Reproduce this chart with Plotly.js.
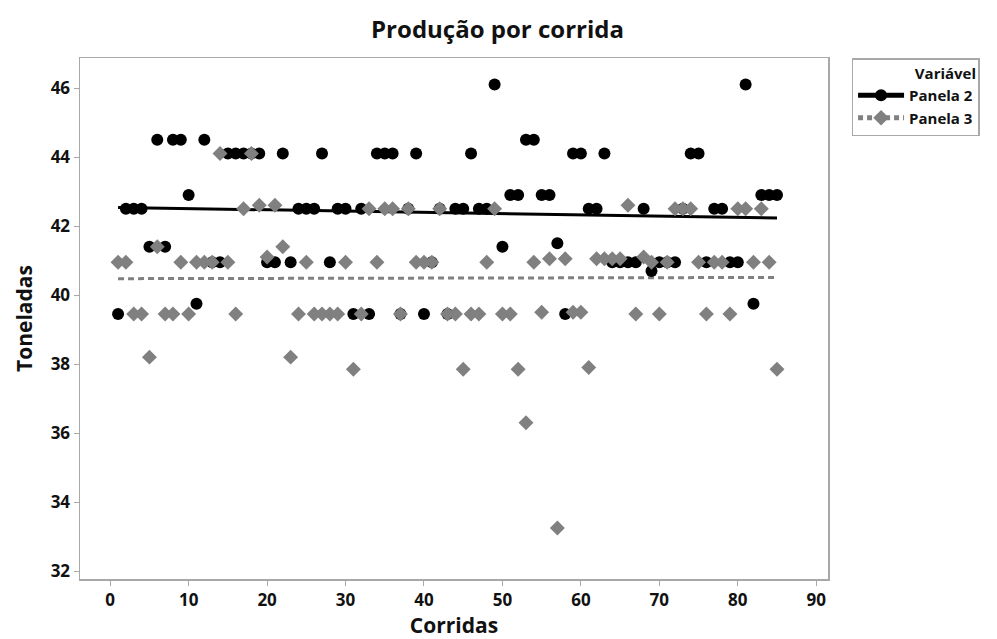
<!DOCTYPE html>
<html>
<head>
<meta charset="utf-8">
<script src="https://cdn.plot.ly/plotly-3.0.1.min.js"></script>
<style>html,body{margin:0;padding:0;background:#fff;}#chart{width:997px;height:639px;}</style>
</head>
<body>
<div id="chart"></div>
<script>
// Run numbers (Corridas)
const runs = Array.from({length: 85}, (_, i) => i + 1);

// Panela 2 (toneladas)
const panela2 = [
  39.45, 42.5, 42.5, 42.5, 41.4, 44.5, 41.4, 44.5, 44.5, 42.9,
  39.75, 44.5, 40.95, 40.95, 44.1, 44.1, 44.1, 44.1, 44.1, 40.95,
  40.95, 44.1, 40.95, 42.5, 42.5, 42.5, 44.1, 40.95, 42.5, 42.5,
  39.45, 42.5, 39.45, 44.1, 44.1, 44.1, 39.45, 42.5, 44.1, 39.45,
  40.95, 42.5, 39.45, 42.5, 42.5, 44.1, 42.5, 42.5, 46.1, 41.4,
  42.9, 42.9, 44.5, 44.5, 42.9, 42.9, 41.5, 39.45, 44.1, 44.1,
  42.5, 42.5, 44.1, 40.95, 40.95, 40.95, 40.95, 42.5, 40.7, 40.95,
  40.95, 40.95, 42.5, 44.1, 44.1, 40.95, 42.5, 42.5, 40.95, 40.95,
  46.1, 39.75, 42.9, 42.9, 42.9
];

// Panela 3 (toneladas)
const panela3 = [
  40.95, 40.95, 39.45, 39.45, 38.2, 41.4, 39.45, 39.45, 40.95, 39.45,
  40.95, 40.95, 40.95, 44.1, 40.95, 39.45, 42.5, 44.1, 42.6, 41.1,
  42.6, 41.4, 38.2, 39.45, 40.95, 39.45, 39.45, 39.45, 39.45, 40.95,
  37.85, 39.45, 42.5, 40.95, 42.5, 42.5, 39.45, 42.5, 40.95, 40.95,
  40.95, 42.5, 39.45, 39.45, 37.85, 39.45, 39.45, 40.95, 42.5, 39.45,
  39.45, 37.85, 36.3, 40.95, 39.5, 41.05, 33.25, 41.05, 39.5, 39.5,
  37.9, 41.05, 41.05, 41.05, 41.05, 42.6, 39.45, 41.1, 40.95, 39.45,
  40.95, 42.5, 42.5, 42.5, 40.95, 39.45, 40.95, 40.95, 39.45, 42.5,
  42.5, 40.95, 42.5, 40.95, 37.85
];

const xTicks = [0, 10, 20, 30, 40, 50, 60, 70, 80, 90];
const yTicks = [32, 34, 36, 38, 40, 42, 44, 46];

function linFit(xs, ys) {
  const n = xs.length;
  let sx = 0, sy = 0, sxx = 0, sxy = 0;
  for (let i = 0; i < n; i++) { sx += xs[i]; sy += ys[i]; sxx += xs[i]*xs[i]; sxy += xs[i]*ys[i]; }
  const b = (n*sxy - sx*sy) / (n*sxx - sx*sx);
  const a = (sy - b*sx) / n;
  const x0 = xs[0], x1 = xs[n-1];
  return {x: [x0, x1], y: [a + b*x0, a + b*x1]};
}

const fit2 = linFit(runs, panela2);
const fit3 = linFit(runs, panela3);

const FONT = '"Open Sans", "Noto Sans", sans-serif';
const GRAY = '#808080';

const traces = [
  {x: fit2.x, y: fit2.y, mode: 'lines', line: {color: '#000', width: 3}, showlegend: false, hoverinfo: 'skip'},
  {x: fit3.x, y: fit3.y, mode: 'lines', line: {color: GRAY, width: 3, dash: '6px,4px'}, showlegend: false, hoverinfo: 'skip'},
  {x: runs, y: panela2, mode: 'markers', marker: {symbol: 'circle', size: 12, color: '#000'}, showlegend: false},
  {x: runs, y: panela3, mode: 'markers', marker: {symbol: 'diamond', size: 11.5, color: GRAY}, showlegend: false},
  {x: [null], y: [null], name: 'Panela 2', mode: 'lines+markers',
   line: {color: '#000', width: 3}, marker: {symbol: 'circle', size: 12, color: '#000'}},
  {x: [null], y: [null], name: 'Panela 3', mode: 'lines+markers',
   line: {color: GRAY, width: 3, dash: '5px,4px'}, marker: {symbol: 'diamond', size: 12, color: GRAY}}
];

const axisCommon = {
  showgrid: false, zeroline: false,
  showline: true, mirror: true, linecolor: '#a8a8a8', linewidth: 1.5,
  ticks: 'outside', ticklen: 5, tickcolor: '#a8a8a8', tickwidth: 1,
  tickfont: {family: FONT, size: 17, color: '#111', weight: 'bold'}
};

const layout = {
  width: 997, height: 639,
  paper_bgcolor: '#fff', plot_bgcolor: '#fff',
  margin: {l: 80, r: 169, t: 58, b: 60, autoexpand: false},
  font: {family: FONT, color: '#111'},
  title: {text: '<b>Produção por corrida</b>', font: {family: FONT, size: 24, color: '#111'},
          x: 0.499, xanchor: 'center', y: 0.953, yanchor: 'middle'},
  xaxis: Object.assign({}, axisCommon, {
    range: [-3.85, 91.5], tickvals: xTicks, ticktext: xTicks.map(String),
    title: {text: '<b>Corridas</b>', font: {family: FONT, size: 21, color: '#111'}, standoff: 6}
  }),
  yaxis: Object.assign({}, axisCommon, {
    range: [31.77, 46.87], tickvals: yTicks, ticktext: yTicks.map(String),
    title: {text: '<b>Toneladas</b>', font: {family: FONT, size: 21, color: '#111'}, standoff: 12}
  }),
  legend: {
    x: 1.0315, xanchor: 'left', y: 1.0, yanchor: 'top',
    bordercolor: '#a8a8a8', borderwidth: 1.5, bgcolor: '#fff',
    font: {family: FONT, size: 15, color: '#111', weight: 'bold'},
    title: {text: '<b>Variável</b>', side: 'top right', font: {family: FONT, size: 15, color: '#111'}},
    itemwidth: 46,
    entrywidth: 150, entrywidthmode: 'pixels',
    tracegroupgap: 0, itemsizing: 'constant'
  },
  showlegend: true
};

Plotly.newPlot('chart', traces, layout, {displayModeBar: false, staticPlot: true});
</script>
</body>
</html>
